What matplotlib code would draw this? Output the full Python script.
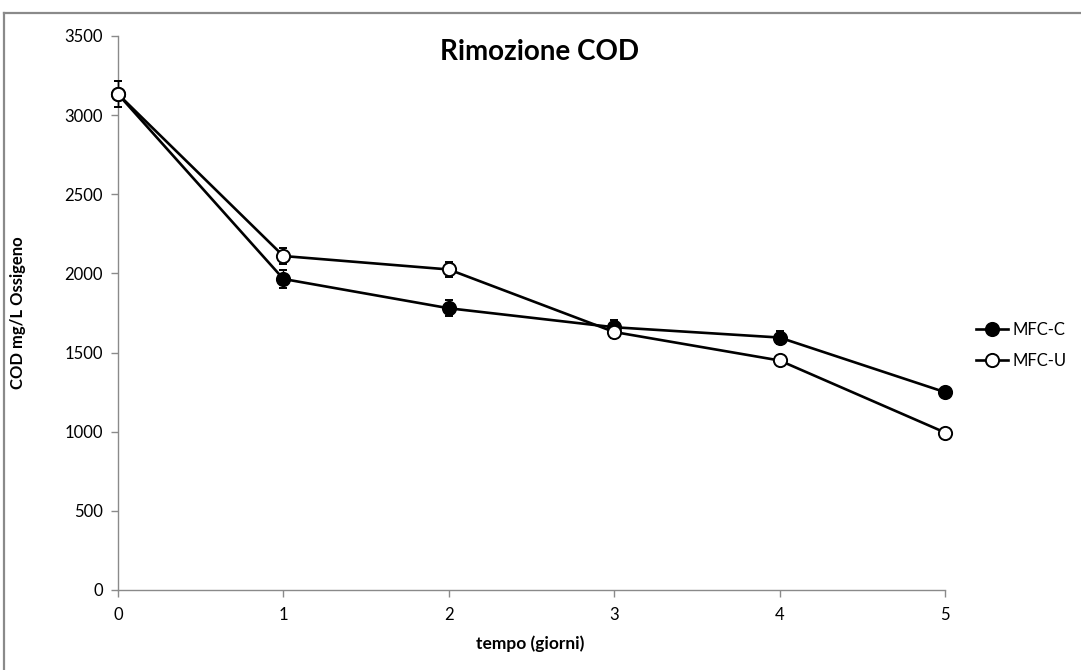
import matplotlib
matplotlib.use("Agg")
import matplotlib.pyplot as plt
from matplotlib.lines import Line2D

plt.rcParams['font.family'] = ['Lato', 'DejaVu Sans']

giorni = [0, 1, 2, 3, 4, 5]
mfc_c = [3133, 1965, 1780, 1660, 1595, 1250]
mfc_c_err = [80, 55, 50, 45, 40, 20]
mfc_u = [3133, 2110, 2025, 1630, 1450, 995]
mfc_u_err = [80, 50, 45, 35, 30, 20]
y_ticks = [0, 500, 1000, 1500, 2000, 2500, 3000, 3500]

W, H = 1081, 670
fig = plt.figure(figsize=(W / 100, H / 100), dpi=100)
# outer chart frame (left and top edges)
fig.lines.append(Line2D([4 / W, 4 / W], [-0.1, 1 - 13 / H], transform=fig.transFigure,
                        color='#8a8a8a', linewidth=1.6))
fig.lines.append(Line2D([4 / W, 1.1], [1 - 13 / H, 1 - 13 / H], transform=fig.transFigure,
                        color='#8a8a8a', linewidth=1.6))

ax = fig.add_axes([118 / W, (H - 590) / H, (945 - 118) / W, (590 - 36) / H])

common = dict(color='black', linewidth=1.9, markersize=9.5, capsize=3.2,
              elinewidth=1.0, capthick=1.0, ecolor='black', markeredgewidth=1.4)
c_line = ax.errorbar(giorni, mfc_c, yerr=mfc_c_err, marker='o', markerfacecolor='black',
                     markeredgecolor='black', zorder=3, **common)
u_line = ax.errorbar(giorni, mfc_u, yerr=mfc_u_err, marker='o', markerfacecolor='white',
                     markeredgecolor='black', zorder=4, **common)
for cont in (c_line, u_line):
    for art in cont.get_children():
        art.set_clip_on(False)

ax.set_xlim(0, 5)
ax.set_ylim(0, 3500)
ax.set_yticks(y_ticks)
ax.set_xticks(giorni)
for s in ('top', 'right'):
    ax.spines[s].set_visible(False)
for s in ('left', 'bottom'):
    ax.spines[s].set_color('#8a8a8a')
    ax.spines[s].set_linewidth(1.0)
ax.tick_params(axis='both', colors='#8a8a8a', labelcolor='black', labelsize=12,
               length=5, width=1.0)
ax.tick_params(axis='x', pad=7)
ax.tick_params(axis='y', pad=6)

fig.text(540 / W, 1 - 52 / H, 'Rimozione COD', ha='center', va='center',
         fontsize=20, fontweight='bold')
fig.text(530 / W, 1 - 644 / H, 'tempo (giorni)', ha='center', va='center',
         fontsize=12.5, fontweight='bold')
fig.text(18 / W, 1 - 313 / H, 'COD mg/L Ossigeno', ha='center', va='center',
         rotation=90, fontsize=12, fontweight='bold')

handles = [
    Line2D([], [], color='black', linewidth=1.9, marker='o', markersize=9.5,
           markerfacecolor='black', markeredgecolor='black', markeredgewidth=1.4),
    Line2D([], [], color='black', linewidth=1.9, marker='o', markersize=9.5,
           markerfacecolor='white', markeredgecolor='black', markeredgewidth=1.4),
]
ax.legend(handles, ['MFC-C', 'MFC-U'], loc='center left',
          bbox_to_anchor=(968 / W, 1 - 345 / H), bbox_transform=fig.transFigure,
          frameon=False, fontsize=12, handlelength=1.9, handletextpad=0.3,
          labelspacing=0.9, borderpad=0)

fig.savefig('out.png', dpi=100)
